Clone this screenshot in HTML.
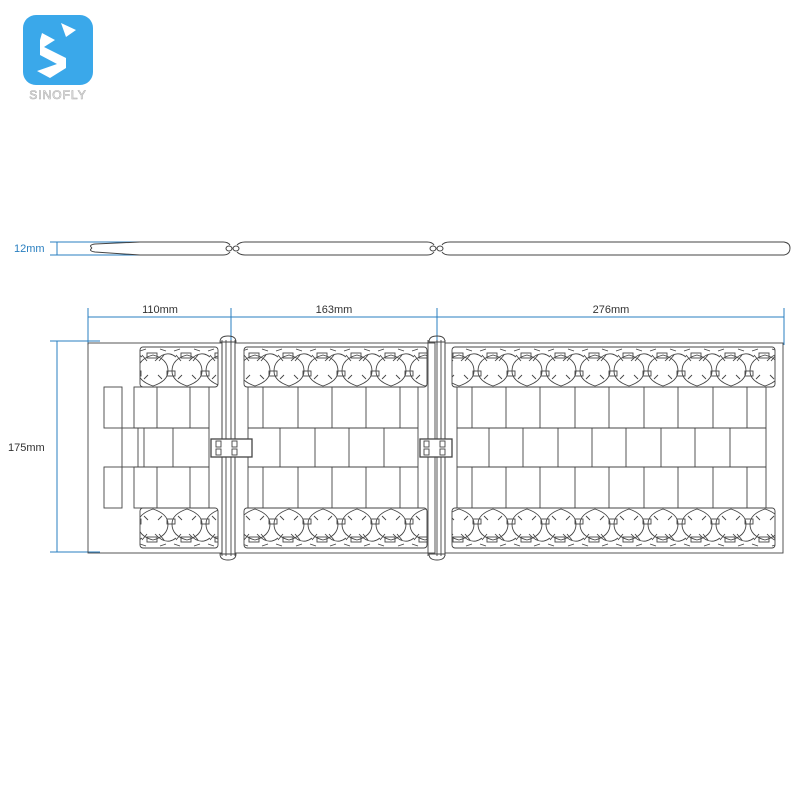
<!DOCTYPE html>
<html><head><meta charset="utf-8"><style>
html,body{margin:0;padding:0;background:#fff;width:800px;height:800px;overflow:hidden}
svg{display:block}
text{font-family:"Liberation Sans",sans-serif}
</style></head><body>
<svg width="800" height="800" viewBox="0 0 800 800" xmlns="http://www.w3.org/2000/svg">
<defs>
<pattern id="hcT" x="0" y="347" width="34" height="40" patternUnits="userSpaceOnUse">
 <g fill="none" stroke="#444" stroke-width="0.9">
  <path d="M2,24 Q2,12 17,8 Q32,12 32,24 Q32,34 17,39 Q2,34 2,24Z"/>
  <path d="M-15,14 Q-4,2 6,10 M19,14 Q30,2 40,10"/>
  <rect x="11" y="6" width="10" height="5"/>
  <rect x="-3" y="24" width="8" height="5"/><rect x="31" y="24" width="8" height="5"/>
  <path d="M6,8 L11,14 M23,14 L28,8 M8,32 L12,28 M22,28 L26,32 M4,4 L10,2 M24,2 L30,4"/>
 </g>
</pattern>
<pattern id="hcB" x="0" y="508" width="34" height="40" patternUnits="userSpaceOnUse">
 <g fill="none" stroke="#444" stroke-width="0.9">
  <path d="M2,16 Q2,6 17,1 Q32,6 32,16 Q32,28 17,32 Q2,28 2,16Z"/>
  <path d="M-15,26 Q-4,38 6,30 M19,26 Q30,38 40,30"/>
  <rect x="11" y="29" width="10" height="5"/>
  <rect x="-3" y="11" width="8" height="5"/><rect x="31" y="11" width="8" height="5"/>
  <path d="M6,32 L11,26 M23,26 L28,32 M8,8 L12,12 M22,12 L26,8 M4,36 L10,38 M24,38 L30,36"/>
 </g>
</pattern>
</defs>

<!-- logo -->
<rect x="23" y="15" width="70" height="70" rx="13" fill="#3aa8ea"/>
<path d="M61,23 L76,30 L66,37 Z" fill="#fff"/>
<path d="M42,33 L55,40 L44,47 L66,58 L66,68 L50,78 L37,71 L57,64 L40,55 L40,40 Z" fill="#fff"/>
<text x="58" y="99" font-size="12" text-anchor="middle" fill="#fff" stroke="#aaa" stroke-width="0.6" letter-spacing="1">SINOFLY</text>

<!-- profile -->
<g stroke="#2a7fc0" stroke-width="1" fill="none">
 <line x1="57" y1="242" x2="57" y2="255"/>
 <line x1="50" y1="242" x2="170" y2="242"/>
 <line x1="50" y1="255" x2="170" y2="255"/>
</g>
<text x="14" y="252" font-size="11" fill="#2a7fc0">12mm</text>
<g stroke="#444" stroke-width="1" fill="none">
 <path d="M92,248 Q88,245 95,244 L140,242 L223,242 Q228,242 230,245"/>
 <path d="M92,248 Q88,251 95,252 L140,255 L223,255 Q228,255 230,252"/>
 <path d="M237,245 Q240,242 245,242 L427,242 Q432,242 434,245"/>
 <path d="M237,252 Q240,255 245,255 L427,255 Q432,255 434,252"/>
 <path d="M442,245 Q444,242 450,242 L784,242 Q790,243 790,248 Q790,254 784,255 L450,255 Q444,255 442,252"/>
 <ellipse cx="229" cy="248.5" rx="3" ry="2.5"/><ellipse cx="236" cy="248.5" rx="3" ry="2.5"/>
 <ellipse cx="433" cy="248.5" rx="3" ry="2.5"/><ellipse cx="440" cy="248.5" rx="3" ry="2.5"/>
</g>

<!-- dimensions -->
<g stroke="#2a7fc0" stroke-width="1">
 <line x1="88" y1="317" x2="784" y2="317"/>
 <line x1="88" y1="308" x2="88" y2="345"/>
 <line x1="231" y1="308" x2="231" y2="345"/>
 <line x1="437" y1="308" x2="437" y2="345"/>
 <line x1="784" y1="308" x2="784" y2="345"/>
 <line x1="57" y1="341" x2="57" y2="552"/>
 <line x1="50" y1="341" x2="100" y2="341"/>
 <line x1="50" y1="552" x2="100" y2="552"/>
</g>
<text x="160" y="313" font-size="11" fill="#333" text-anchor="middle">110mm</text>
<text x="334" y="313" font-size="11" fill="#333" text-anchor="middle">163mm</text>
<text x="611" y="313" font-size="11" fill="#333" text-anchor="middle">276mm</text>
<text x="8" y="451" font-size="11" fill="#333">175mm</text>

<g stroke="#444" stroke-width="0.9" fill="none">
 <rect x="88" y="343" width="134" height="210"/>
 <line x1="222" y1="340" x2="222" y2="556"/><line x1="226" y1="340" x2="226" y2="556"/>
 <line x1="231" y1="340" x2="231" y2="556"/><line x1="235" y1="340" x2="235" y2="556"/>
 <rect x="235" y="343" width="200" height="210"/>
 <line x1="428" y1="340" x2="428" y2="556"/><line x1="437" y1="340" x2="437" y2="556"/>
 <line x1="441" y1="340" x2="441" y2="556"/><line x1="445" y1="340" x2="445" y2="556"/>
 <rect x="445" y="343" width="338" height="210"/>
 <path d="M220,342 Q220,336 228,336 Q236,336 236,342Z"/><path d="M220,554 Q220,560 228,560 Q236,560 236,554Z"/>
 <path d="M429,342 Q429,336 437,336 Q445,336 445,342Z"/><path d="M429,554 Q429,560 437,560 Q445,560 445,554Z"/>

 <rect x="140" y="347" width="78" height="40" rx="3" fill="url(#hcT)"/>
 <rect x="140" y="508" width="78" height="40" rx="3" fill="url(#hcB)"/>
 <rect x="104" y="387" width="18" height="41"/><rect x="104" y="467" width="18" height="41"/>
 <rect x="134" y="387" width="75" height="41"/><rect x="134" y="467" width="75" height="41"/>
 <line x1="157" y1="387" x2="157" y2="428"/><line x1="190" y1="387" x2="190" y2="428"/>
 <line x1="157" y1="467" x2="157" y2="508"/><line x1="190" y1="467" x2="190" y2="508"/>
 <rect x="122" y="428" width="87" height="39"/>
 <line x1="138" y1="428" x2="138" y2="467"/><line x1="144" y1="428" x2="144" y2="467"/><line x1="173" y1="428" x2="173" y2="467"/>

 <rect x="244" y="347" width="183" height="40" rx="3" fill="url(#hcT)"/>
 <rect x="244" y="508" width="183" height="40" rx="3" fill="url(#hcB)"/>
 <rect x="248" y="387" width="170" height="121"/>
 <line x1="248" y1="428" x2="418" y2="428"/><line x1="248" y1="467" x2="418" y2="467"/>
 <path d="M263,387V428M298,387V428M332,387V428M366,387V428M400,387V428"/>
 <path d="M263,467V508M298,467V508M332,467V508M366,467V508M400,467V508"/>
 <path d="M280,428V467M315,428V467M349,428V467M384,428V467"/>

 <rect x="452" y="347" width="323" height="40" rx="3" fill="url(#hcT)"/>
 <rect x="452" y="508" width="323" height="40" rx="3" fill="url(#hcB)"/>
 <rect x="457" y="387" width="309" height="121"/>
 <line x1="457" y1="428" x2="766" y2="428"/><line x1="457" y1="467" x2="766" y2="467"/>
 <path d="M472,387V428M506,387V428M540,387V428M575,387V428M609,387V428M644,387V428M678,387V428M713,387V428M747,387V428"/>
 <path d="M472,467V508M506,467V508M540,467V508M575,467V508M609,467V508M644,467V508M678,467V508M713,467V508M747,467V508"/>
 <path d="M489,428V467M523,428V467M558,428V467M592,428V467M626,428V467M661,428V467M695,428V467M730,428V467"/>

 <rect x="211" y="439" width="41" height="18" fill="#fff" stroke-width="1.3"/>
 <rect x="216" y="441" width="5" height="6"/><rect x="216" y="449" width="5" height="6"/>
 <rect x="232" y="441" width="5" height="6"/><rect x="232" y="449" width="5" height="6"/>
 <rect x="420" y="439" width="32" height="18" fill="#fff" stroke-width="1.3"/>
 <rect x="424" y="441" width="5" height="6"/><rect x="424" y="449" width="5" height="6"/>
 <rect x="440" y="441" width="5" height="6"/><rect x="440" y="449" width="5" height="6"/>
</g>
</svg>
</body></html>
